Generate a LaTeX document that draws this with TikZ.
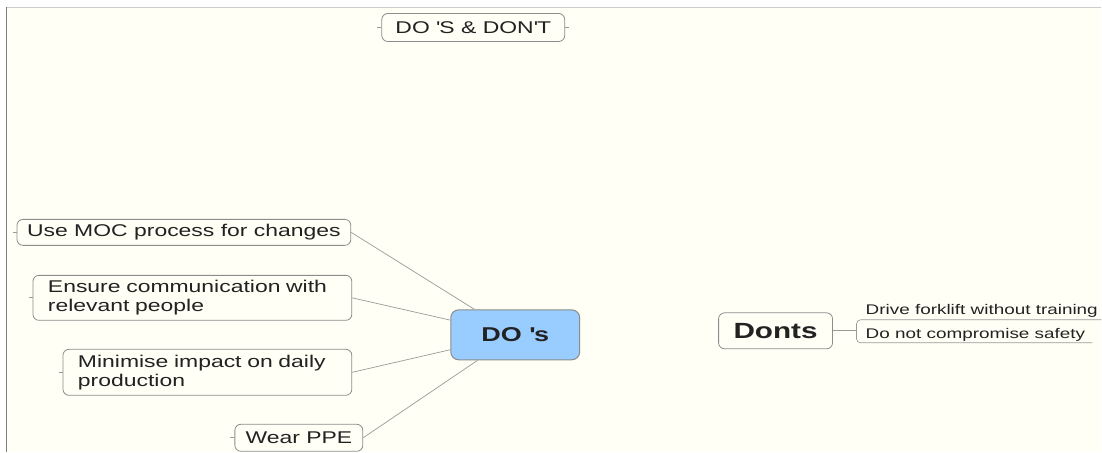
\documentclass[tikz,border=0pt]{standalone}
\usepackage{fontspec}
\setmainfont{Liberation Sans}[FakeStretch=1.35]
\usetikzlibrary{calc}
\definecolor{paper}{HTML}{FFFFF5}
\definecolor{edgegray}{HTML}{8C8C8C}
\definecolor{linkgray}{HTML}{9A9A9A}
\definecolor{hubblue}{HTML}{99CCFF}
\definecolor{inkgray}{HTML}{222222}
\newcommand{\sq}{\textquotesingle}
\begin{document}
\begin{tikzpicture}[x=1pt,y=-1pt,
  topic/.style={draw=edgegray,line width=0.8pt,rounded corners=6pt,fill=paper,
    text=inkgray,font=\fontsize{17}{19}\selectfont,inner sep=0pt},
  twoline/.style={topic,inner xsep=15pt,align=left},
  hub/.style={draw=edgegray,line width=1pt,rounded corners=8pt,
    text=inkgray,inner sep=0pt},
  link/.style={draw=linkgray,line width=0.7pt},
  leaf/.style={text=inkgray,font=\fontsize{14}{16}\selectfont,inner sep=0pt,anchor=base west}]
% page and frame
\fill[white] (0,0) rectangle (1102,452);
\fill[paper] (7,8) rectangle (1102,452);
\draw[black!20,line width=1.2pt] (6,7.5) -- (1102,7.5);
\draw[black!50,line width=1.5pt] (6.5,7) -- (6.5,452);
\useasboundingbox (0,0) rectangle (1102,452);

% title
\node[topic,minimum width=183pt,minimum height=28pt] (title) at (473.5,27.5) {DO \sq S \& DON\sq T};
\draw[link] (title.west) -- ++(-4,0);
\draw[link] (title.east) -- ++(4,0);

% central topics
\node[hub,fill=hubblue,minimum width=129pt,minimum height=50pt,
  font=\bfseries\fontsize{20}{22}\selectfont] (dos) at (515.5,335) {DO \sq s};
\node[hub,fill=paper,line width=0.8pt,rounded corners=6pt,minimum width=114pt,minimum height=36pt,
  font=\bfseries\fontsize{22}{24}\selectfont] (donts) at (776,331) {Donts};

% DO's branches
\node[topic,minimum width=334pt,minimum height=26pt] (moc) at (184,232.5) {Use MOC process for changes};
\node[twoline,text width=289pt,minimum height=45pt] (comm) at (192.5,298) {Ensure communication with\\relevant people};
\node[twoline,text width=259pt,minimum height=46pt] (impact) at (207.5,372.5) {Minimise impact on daily\\production};
\node[topic,minimum width=128pt,minimum height=27pt] (ppe) at (299,438) {Wear PPE};

\foreach \n in {moc,comm,impact,ppe}{
  \draw[link] (\n.east) -- (dos);
  \draw[link] (\n.west) -- ++(-4,0);
}

% Dont's branches
\coordinate (fork) at (857,331);
\draw[link] (donts.east) -- (fork);
\node[leaf] (drive) at (866,315) {Drive forklift without training};
\node[leaf] (safety) at (866,338.5) {Do not compromise safety};
\draw[link,rounded corners=4pt] (1102,320) -- (857,320) -- (fork) -- (857,343) -- (1093,343);
\end{tikzpicture}
\end{document}
